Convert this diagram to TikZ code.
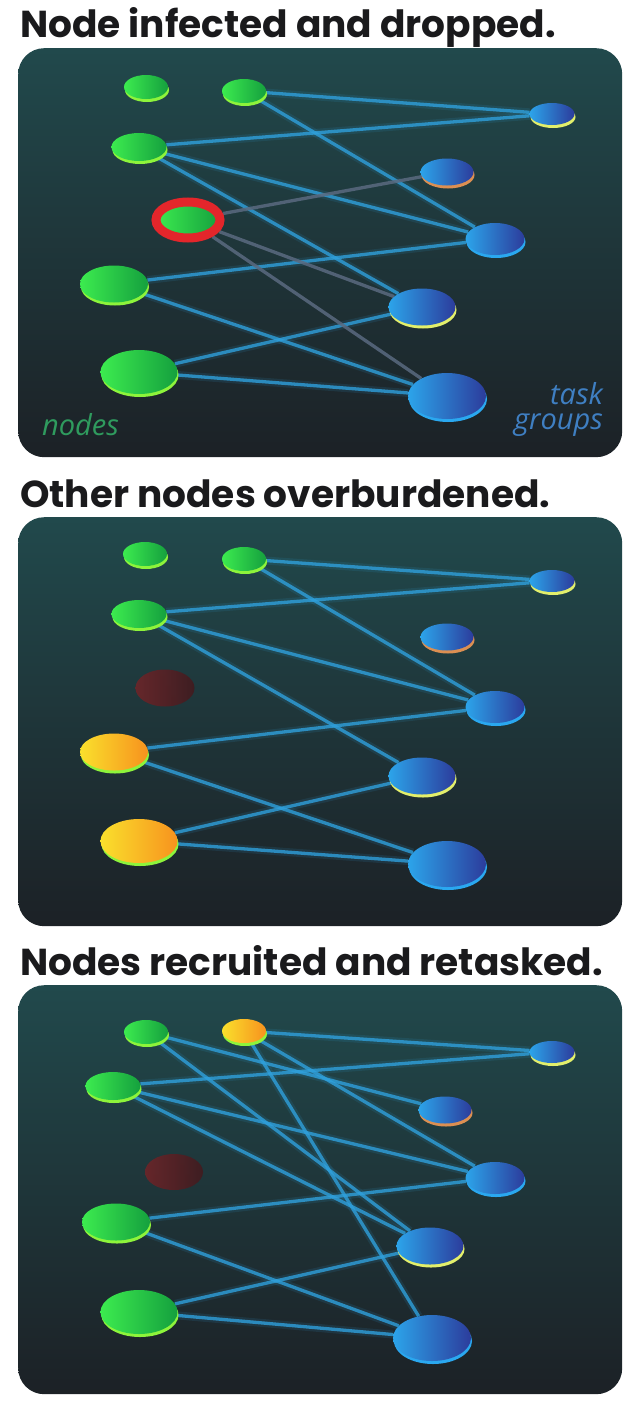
\documentclass[tikz,border=0pt]{standalone}
\usepackage{fontspec}
\newfontfamily\headfont{Poppins}
\newfontfamily\tagfont{Open Sans}
\usepackage{tikz}
\usetikzlibrary{shapes.geometric,positioning}
\definecolor{nwink}{HTML}{1A1A1C}
\definecolor{nwteal}{HTML}{21494C}
\definecolor{nwdeep}{HTML}{0D3541}
\definecolor{nwdark}{HTML}{1C2126}
\definecolor{nwgreenA}{HTML}{3CEB4F}
\definecolor{nwgreenB}{HTML}{15A03E}
\definecolor{nwlime}{HTML}{8DF43B}
\definecolor{nwsunA}{HTML}{FAE02C}
\definecolor{nwsunB}{HTML}{F7921E}
\definecolor{nwblueA}{HTML}{2CA4EA}
\definecolor{nwblueB}{HTML}{2C3C9C}
\definecolor{nwsky}{HTML}{2AA8F0}
\definecolor{nwlemon}{HTML}{E3EF6B}
\definecolor{nwpeach}{HTML}{DC8F52}
\definecolor{nwred}{HTML}{E3262B}
\definecolor{nwmaroonA}{HTML}{722428}
\definecolor{nwmaroonB}{HTML}{43191D}
\definecolor{nwwire}{HTML}{2FA0DC}
\definecolor{nwgrey}{HTML}{5A6A80}
\definecolor{nwtxtgreen}{HTML}{2F9B5E}
\definecolor{nwtxtblue}{HTML}{3F7FC2}
\pgfdeclarelayer{panel}
\pgfdeclarelayer{wires}
\pgfsetlayers{panel,wires,main}
\tikzset{
  headline/.style={font=\headfont\bfseries\fontsize{37.5pt}{40pt}\selectfont, text=nwink,
    inner sep=0pt, anchor=base west},
  board/.style={rectangle, rounded corners=26pt, minimum width=604pt, minimum height=409pt,
    anchor=north west, top color=nwteal, middle color=nwdeep, bottom color=nwdark},
  sz/.style 2 args={minimum width=#1pt, minimum height=#2pt},
  rim/.style={preaction={fill=#1, transform canvas={xshift=1pt, yshift=-3pt}}},
  disc/.style={ellipse, inner sep=0pt},
  worker/.style={disc, left color=nwgreenA, right color=nwgreenB, rim=nwlime},
  loaded/.style={disc, left color=nwsunA, right color=nwsunB, rim=nwlime},
  dead/.style={disc, left color=nwmaroonA, right color=nwmaroonB, opacity=0.85},
  infected/.style={disc, left color=nwgreenA, right color=nwgreenB, draw=nwred, line width=9pt},
  group/.style={disc, left color=nwblueA, right color=nwblueB, rim=#1},
  wire/.style={draw=nwwire, line width=3.3pt, opacity=0.8,
    preaction={draw=nwwire, line width=8pt, opacity=0.12}},
  sick/.style={draw=nwgrey, line width=3.3pt, opacity=0.85},
  tag/.style={font=\tagfont\itshape\fontsize{29pt}{25pt}\selectfont, inner sep=0pt},
}
\begin{document}
\begin{tikzpicture}[x=1pt,y=-1pt]
\useasboundingbox (0,0) rectangle (640,1405);

% panel 1: infection
\begin{pgfonlayer}{panel}
\node[board] (p1) at (18,48) {};
\end{pgfonlayer}
\node[headline] (h1) at (20,38) {Node infected and dropped.};
\node[worker, sz={44}{24}] (a1) at (146,87) {};
\node[worker, sz={44}{24}] (a2) at (244,91) {};
\node[worker, sz={55}{28}] (a3) at (139,147) {};
\node[infected, sz={64}{36}] (a4) at (188,220) {};
\node[worker, sz={68}{37}] (a5) at (114,284) {};
\node[worker, sz={77}{44}] (a6) at (139,372) {};
\node[group=nwlemon, sz={45}{22}] (t1) at (552,114) {};
\node[group=nwpeach, sz={53}{27}] (t2) at (447,172) {};
\node[group=nwsky, sz={59}{32}] (t3) at (495,239) {};
\node[group=nwlemon, sz={67}{37}] (t4) at (422,307) {};
\node[group=nwsky, sz={78}{46}] (t5) at (447,396) {};
\node[tag, text=nwtxtgreen, anchor=base west] (n1) at (42,435) {nodes};
\node[tag, text=nwtxtblue, align=right, anchor=base east] (g1) at (603,429) {task\\groups};
\begin{pgfonlayer}{wires}
\foreach \a/\b in {a2/t1,a3/t1,a2/t3,a3/t3,a3/t4,a5/t3,a5/t5,a6/t4,a6/t5} \draw[wire] (\a) -- (\b);
\foreach \b in {t2,t4,t5} \draw[sick] (a4) -- (\b);
\end{pgfonlayer}

% panel 2: overload
\begin{pgfonlayer}{panel}
\node[board] (p2) at (18,517) {};
\end{pgfonlayer}
\node[headline] (h2) at (20,507) {Other nodes overburdened.};
\node[worker, sz={44}{24}] (b1) at (145,554) {};
\node[worker, sz={44}{24}] (b2) at (244,559) {};
\node[worker, sz={55}{28}] (b3) at (139,614) {};
\node[dead, sz={59}{37}] (b4) at (165,688) {};
\node[loaded, sz={68}{37}] (b5) at (114,752) {};
\node[loaded, sz={77}{44}] (b6) at (139,841) {};
\node[group=nwlemon, sz={45}{22}] (u1) at (552,581) {};
\node[group=nwpeach, sz={53}{27}] (u2) at (447,637) {};
\node[group=nwsky, sz={59}{32}] (u3) at (495,707) {};
\node[group=nwlemon, sz={67}{37}] (u4) at (422,776) {};
\node[group=nwsky, sz={78}{46}] (u5) at (447,864) {};
\begin{pgfonlayer}{wires}
\foreach \a/\b in {b2/u1,b3/u1,b2/u3,b3/u3,b3/u4,b5/u3,b5/u5,b6/u4,b6/u5} \draw[wire] (\a) -- (\b);
\end{pgfonlayer}

% panel 3: retasking
\begin{pgfonlayer}{panel}
\node[board] (p3) at (18,985) {};
\end{pgfonlayer}
\node[headline] (h3) at (20,975) {Nodes recruited and retasked.};
\node[worker, sz={44}{24}] (c1) at (146,1032) {};
\node[loaded, sz={44}{24}] (c2) at (244,1031) {};
\node[worker, sz={55}{28}] (c3) at (113,1086) {};
\node[dead, sz={58}{36}] (c4) at (174,1172) {};
\node[worker, sz={68}{37}] (c5) at (116,1222) {};
\node[worker, sz={77}{44}] (c6) at (139,1312) {};
\node[group=nwlemon, sz={45}{22}] (v1) at (552,1052) {};
\node[group=nwpeach, sz={53}{27}] (v2) at (445,1110) {};
\node[group=nwsky, sz={59}{32}] (v3) at (495,1178) {};
\node[group=nwlemon, sz={67}{37}] (v4) at (430,1246) {};
\node[group=nwsky, sz={78}{46}] (v5) at (432,1338) {};
\begin{pgfonlayer}{wires}
\foreach \a/\b in {c2/v1,c3/v1,c1/v2,c1/v4,c2/v3,c2/v5,c3/v3,c3/v4,c5/v3,c5/v5,c6/v4,c6/v5} \draw[wire] (\a) -- (\b);
\end{pgfonlayer}
\end{tikzpicture}
\end{document}
